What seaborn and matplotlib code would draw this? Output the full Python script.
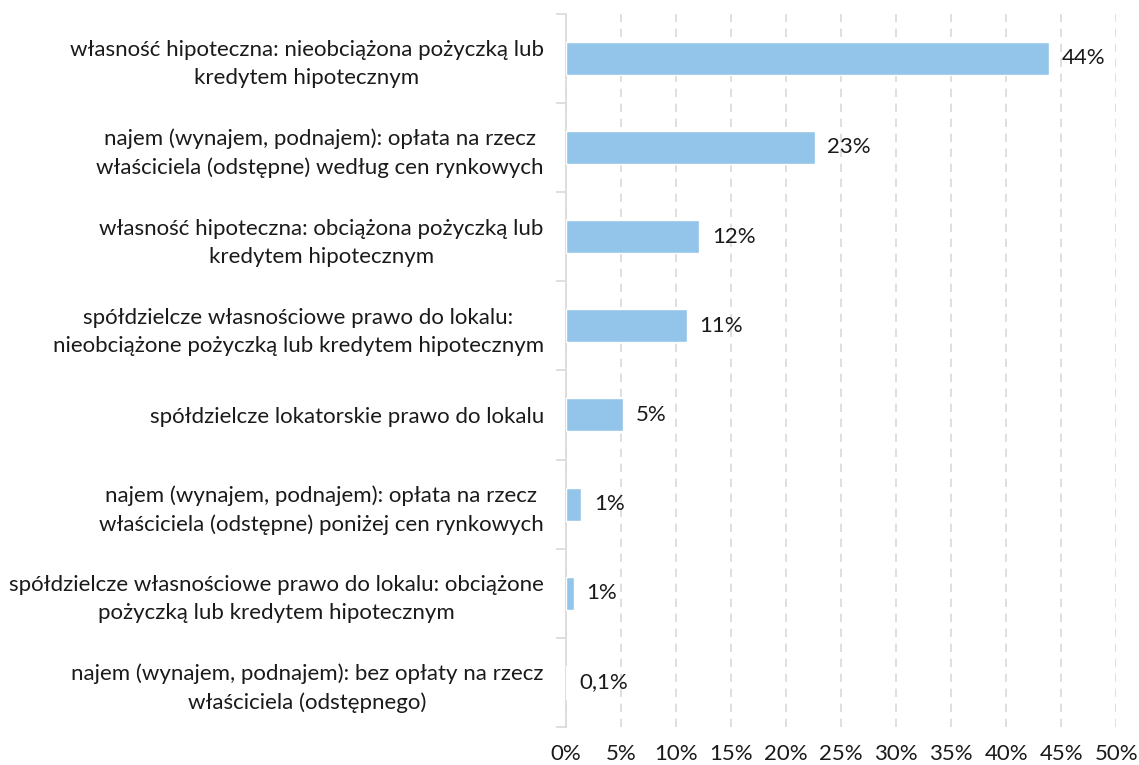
import matplotlib
matplotlib.use("Agg")
import matplotlib.pyplot as plt
from matplotlib.ticker import MultipleLocator, FixedLocator, PercentFormatter
import seaborn as sns
import pandas as pd
import numpy as np

categories = [
    "własność hipoteczna: nieobciążona pożyczką lub\nkredytem hipotecznym",
    "najem (wynajem, podnajem): opłata na rzecz\nwłaściciela (odstępne) według cen rynkowych",
    "własność hipoteczna: obciążona pożyczką lub\nkredytem hipotecznym",
    "spółdzielcze własnościowe prawo do lokalu:\nnieobciążone pożyczką lub kredytem hipotecznym",
    "spółdzielcze lokatorskie prawo do lokalu",
    "najem (wynajem, podnajem): opłata na rzecz\nwłaściciela (odstępne) poniżej cen rynkowych",
    "spółdzielcze własnościowe prawo do lokalu: obciążone\npożyczką lub kredytem hipotecznym",
    "najem (wynajem, podnajem): bez opłaty na rzecz\nwłaściciela (odstępnego)",
]
shares = [43.9, 22.6, 12.1, 11.0, 5.2, 1.4, 0.7, 0.1]

df = pd.DataFrame({"kategoria": categories, "udzial": shares})

sns.set_style("white")
plt.rcParams["font.family"] = ["Lato", "DejaVu Sans"]

fig = plt.figure(figsize=(11.39, 7.65), dpi=100)
ax = fig.add_axes([0.497, 0.0497, 0.483, 0.9323])

bar_color = "#92c5e9"
sns.barplot(data=df, x="udzial", y="kategoria", orient="h", color=bar_color,
            width=0.37, saturation=1, ax=ax, zorder=3)

ax.set_xlim(0, 50)
ax.set_ylim(len(categories) - 0.5, -0.5)
ax.xaxis.set_major_locator(MultipleLocator(5))
ax.xaxis.set_major_formatter(PercentFormatter(decimals=0))
ax.grid(axis="x", color="#d9d9d9", linestyle=(0, (5, 4)), linewidth=1.2, zorder=0)
ax.grid(axis="y", visible=False)

for s in ["top", "right", "bottom"]:
    ax.spines[s].set_visible(False)
ax.spines["left"].set_color("#d9d9d9")
ax.spines["left"].set_linewidth(1.2)

ax.set_xlabel("")
ax.set_ylabel("")

text_color = "#1a1a1a"
fs = 16
ax.tick_params(axis="x", length=0, pad=12, labelsize=fs, labelcolor=text_color)
ax.tick_params(axis="y", which="major", left=False, length=0, pad=16,
               labelsize=fs, labelcolor=text_color)
ax.yaxis.set_minor_locator(FixedLocator(np.arange(-0.5, len(categories), 1.0)))
ax.tick_params(axis="y", which="minor", left=True, length=7, width=1.2, color="#d9d9d9")

for t in ax.get_yticklabels():
    t.set_multialignment("center")
    t.set_linespacing(1.5)


def fmt(v):
    if v < 0.5:
        return f"{v:.1f}".replace(".", ",") + "%"
    return f"{round(v):.0f}%"


for i, v in enumerate(shares):
    ax.annotate(fmt(v), xy=(v, i), xytext=(9, 0), textcoords="offset points",
                va="center", ha="left", fontsize=fs, color=text_color, zorder=4)

fig.savefig("out.png", dpi=100)
